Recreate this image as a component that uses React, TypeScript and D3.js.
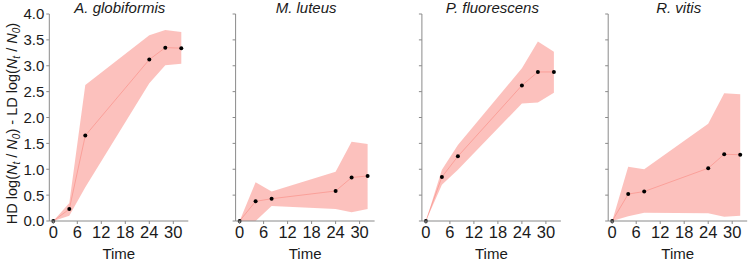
import React from "react";
import * as d3 from "d3";

const times = [0, 4, 8, 24, 28, 32];
const species = ["A. globiformis", "M. luteus", "P. fluorescens", "R. vitis"];
const meanVals = [
  [0, 0.23, 1.65, 3.12, 3.35, 3.34],
  [0, 0.38, 0.43, 0.58, 0.84, 0.87],
  [0, 0.85, 1.25, 2.62, 2.88, 2.88],
  [0, 0.52, 0.57, 1.02, 1.29, 1.28],
];
const lowerVals = [
  [0, 0.1, 0.65, 2.66, 3.01, 3.04],
  [0, 0.0, 0.29, 0.23, 0.17, 0.23],
  [0, 0.7, 0.99, 2.27, 2.29, 2.48],
  [0, 0.09, 0.16, 0.15, 0.08, 0.1],
];
const upperVals = [
  [0, 0.35, 2.63, 3.59, 3.69, 3.65],
  [0, 0.75, 0.57, 0.95, 1.53, 1.49],
  [0, 0.99, 1.47, 2.95, 3.47, 3.27],
  [0, 1.05, 1.0, 1.88, 2.47, 2.45],
];
const xTicks = [0, 6, 12, 18, 24, 30];
const yTicks = [0, 0.5, 1, 1.5, 2, 2.5, 3, 3.5, 4];

const W = 748;
const H = 261;
const panelStart = 49.3;
const panelStep = 186.3;
const panelWidth = 139;
const top = 14;
const bottom = 221;
const axisColor = "#8a8a8a";
const textColor = "#1a1a1a";
const font = "'Liberation Sans', Arial, sans-serif";

export default function App() {
  const y = d3.scaleLinear().domain([0, 4]).range([bottom, top]);
  return (
    <svg width={W} height={H} style={{ position: "absolute", left: 0, top: 0, background: "#fff" }} fontFamily={font}>
      <text
        transform={`translate(17,${(top + bottom) / 2 + 6}) rotate(-90)`}
        textAnchor="middle"
        fontSize={14.5}
        fill={textColor}
      >
        <tspan>HD log(</tspan>
        <tspan fontStyle="italic">N</tspan>
        <tspan fontStyle="italic" fontSize={10} dy={3}>t</tspan>
        <tspan dy={-3}> / </tspan>
        <tspan fontStyle="italic">N</tspan>
        <tspan fontStyle="italic" fontSize={10} dy={3}>0</tspan>
        <tspan dy={-3}>) - LD log(</tspan>
        <tspan fontStyle="italic">N</tspan>
        <tspan fontStyle="italic" fontSize={10} dy={3}>t</tspan>
        <tspan dy={-3}> / </tspan>
        <tspan fontStyle="italic">N</tspan>
        <tspan fontStyle="italic" fontSize={10} dy={3}>0</tspan>
        <tspan dy={-3}>)</tspan>
      </text>
      {species.map((sp, i) => {
        const x0 = panelStart + i * panelStep;
        const x = d3.scaleLinear().domain([-1, 33.75]).range([x0, x0 + panelWidth]);
        const rows = times.map((t, k) => ({ t, m: meanVals[i][k], lo: lowerVals[i][k], hi: upperVals[i][k] }));
        const area = d3
          .area<any>()
          .x((d) => x(d.t))
          .y0((d) => y(d.lo))
          .y1((d) => y(d.hi));
        const line = d3
          .line<any>()
          .x((d) => x(d.t))
          .y((d) => y(d.m));
        return (
          <g key={sp}>
            <path d={area(rows) || ""} fill="#F8766D" fillOpacity={0.45} stroke="none" />
            <path d={line(rows) || ""} fill="none" stroke="#F8766D" strokeOpacity={0.55} strokeWidth={0.8} />
            {rows.map((d) => (
              <circle key={d.t} cx={x(d.t)} cy={y(d.m)} r={2} fill="#000" />
            ))}
            <line x1={x0} x2={x0} y1={top} y2={bottom} stroke={axisColor} strokeWidth={1} />
            <line x1={x0} x2={x0 + panelWidth} y1={bottom} y2={bottom} stroke={axisColor} strokeWidth={1} />
            {yTicks.map((v) => (
              <g key={v}>
                <line x1={x0 - 3} x2={x0} y1={y(v)} y2={y(v)} stroke={axisColor} />
                {i === 0 && (
                  <text x={x0 - 5} y={y(v)} dy="0.36em" textAnchor="end" fontSize={15} fill={textColor}>
                    {v.toFixed(1)}
                  </text>
                )}
              </g>
            ))}
            {xTicks.map((v) => (
              <g key={v}>
                <line x1={x(v)} x2={x(v)} y1={bottom} y2={bottom + 3} stroke={axisColor} />
                <text x={x(v)} y={bottom + 17} textAnchor="middle" fontSize={16.5} fill={textColor}>
                  {v}
                </text>
              </g>
            ))}
            <text x={x0 + panelWidth / 2} y={bottom + 37.5} textAnchor="middle" fontSize={15} fill={textColor}>
              Time
            </text>
            <text x={x0 + panelWidth / 2 + 1} y={12.5} textAnchor="middle" fontSize={15} fontStyle="italic" fill={textColor}>
              {sp}
            </text>
          </g>
        );
      })}
    </svg>
  );
}
